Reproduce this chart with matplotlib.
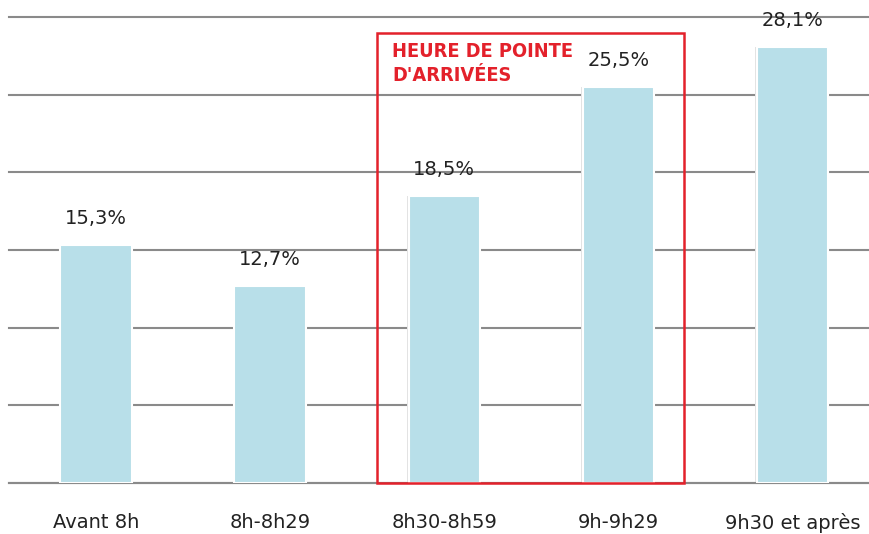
import matplotlib.pyplot as plt

categories = ["Avant 8h", "8h-8h29", "8h30-8h59", "9h-9h29", "9h30 et après"]
values = [15.3, 12.7, 18.5, 25.5, 28.1]
value_labels = ["15,3%", "12,7%", "18,5%", "25,5%", "28,1%"]
yticks = [0, 5, 10, 15, 20, 25, 30]

fig = plt.figure(figsize=(8.69, 5.34), dpi=100)
ax = fig.add_axes([9 / 869, 1 - 483 / 534, 1 - 9 / 869, (483 - 17) / 534])

x = range(len(categories))
# faint shadow behind each bar, then the bar itself with a white rim
ax.bar(x, values, width=0.425, color="#e2e2e2", zorder=2)
ax.bar(x, values, width=0.41, color="#b8dfe9", edgecolor="white", linewidth=1.5, zorder=3)

for i, (v, lab) in enumerate(zip(values, value_labels)):
    ax.text(i, v + 1.7, lab, ha="center", va="center", fontsize=14, color="#222222", zorder=4)

ax.set_xlim(-0.5, 4.44)
ax.set_ylim(0, 30)
ax.set_yticks(yticks)
ax.yaxis.grid(True, color="#8a8a8a", linewidth=1.5, zorder=0)
for gl in ax.yaxis.get_gridlines():
    gl.set_clip_on(False)
ax.set_axisbelow(True)
ax.tick_params(axis="y", left=False, labelleft=False)
ax.tick_params(axis="x", bottom=False, labelsize=14, pad=18, labelcolor="#222222")
ax.set_xticks(list(x))
ax.set_xticklabels(categories)
for side in ["top", "right", "left"]:
    ax.spines[side].set_visible(False)
ax.spines["bottom"].set_color("#8a8a8a")
ax.spines["bottom"].set_linewidth(1.5)

# peak arrival window
rect = plt.Rectangle((1.615, 0), 3.379 - 1.615, 29.0, fill=False, edgecolor="#e3212b",
                     linewidth=1.8, zorder=5, clip_on=False)
ax.add_patch(rect)
ax.text(1.70, 28.4, "HEURE DE POINTE\nD'ARRIVÉES", ha="left", va="top", fontsize=14.3,
        fontweight="bold", fontstretch="condensed", color="#e3212b", linespacing=1.35,
        family=["DejaVu Sans Condensed", "Liberation Sans Narrow", "DejaVu Sans"], zorder=6)

fig.savefig("out.png", dpi=100)
